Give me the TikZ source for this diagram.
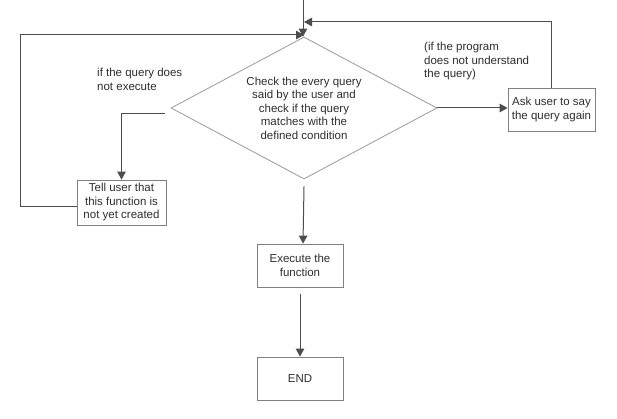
\documentclass[tikz,border=0pt]{standalone}
\usepackage{fontspec}
\setmainfont{Liberation Sans}
\usetikzlibrary{shapes.geometric,arrows.meta}
\definecolor{linec}{HTML}{4D4D4D}
\definecolor{boxc}{HTML}{808080}
\definecolor{diac}{HTML}{9A9A9A}
\definecolor{txtc}{HTML}{2E2E2E}
\begin{document}
\begin{tikzpicture}[x=1pt,y=-1pt,
  every node/.style={font=\fontsize{11.5}{13.5}\selectfont, text=txtc},
  procbox/.style={draw=boxc, line width=0.8pt, align=center, inner sep=0pt},
  decis/.style={draw=diac, line width=0.8pt, diamond, aspect=1.87, inner sep=0pt, minimum width=266pt, minimum height=142pt, align=center},
  lbl/.style={align=left, inner sep=0pt, anchor=north west},
  arr/.style={draw=linec, line width=1pt, -{Triangle[length=8pt,width=8.5pt]}}
]
\useasboundingbox (0,0) rectangle (617,419);
\fill[white] (0,0) rectangle (617,419);

\node[decis] (dia) at (304,108) {Check the every query\\said by the user and\\check if the query\\matches with the\\defined condition};
\node[procbox, minimum width=89pt, minimum height=45pt] (tell) at (121.5,202.5) {Tell user that\\this function is\\not yet created};
\node[procbox, minimum width=87pt, minimum height=43pt] (ask) at (551.5,109.5) {Ask user to say\\the query again};
\node[procbox, minimum width=86pt, minimum height=43pt] (exec) at (300,265.5) {Execute the\\function};
\node[procbox, minimum width=86pt, minimum height=43pt] (fin) at (300,378.5) {END};

\node[lbl] (l1) at (97,68) {if the query does\\not execute};
\node[lbl] (l2) at (424,42) {(if the program\\does not understand\\the query)};

\coordinate (top) at (303,0);
\coordinate (lc) at (20,35);
\coordinate (rj) at (304,22);

\draw[arr] (top) -- (top |- dia.north);
\draw[arr] ([yshift=-4.5pt]tell.west) -| (lc) -- (lc -| dia.north);
\draw[arr] (ask.north) |- (rj);
\draw[arr] (dia.east) -- (ask.west |- dia.east);
\draw[arr] ([shift={(-6pt,-6pt)}]dia.west) -| (tell.north);
\draw[arr] ([yshift=-7pt]dia.south) -- ([xshift=-1pt]dia.south |- exec.north);
\draw[arr] ([yshift=-7pt]exec.south) -- (fin.north);
\end{tikzpicture}
\end{document}
